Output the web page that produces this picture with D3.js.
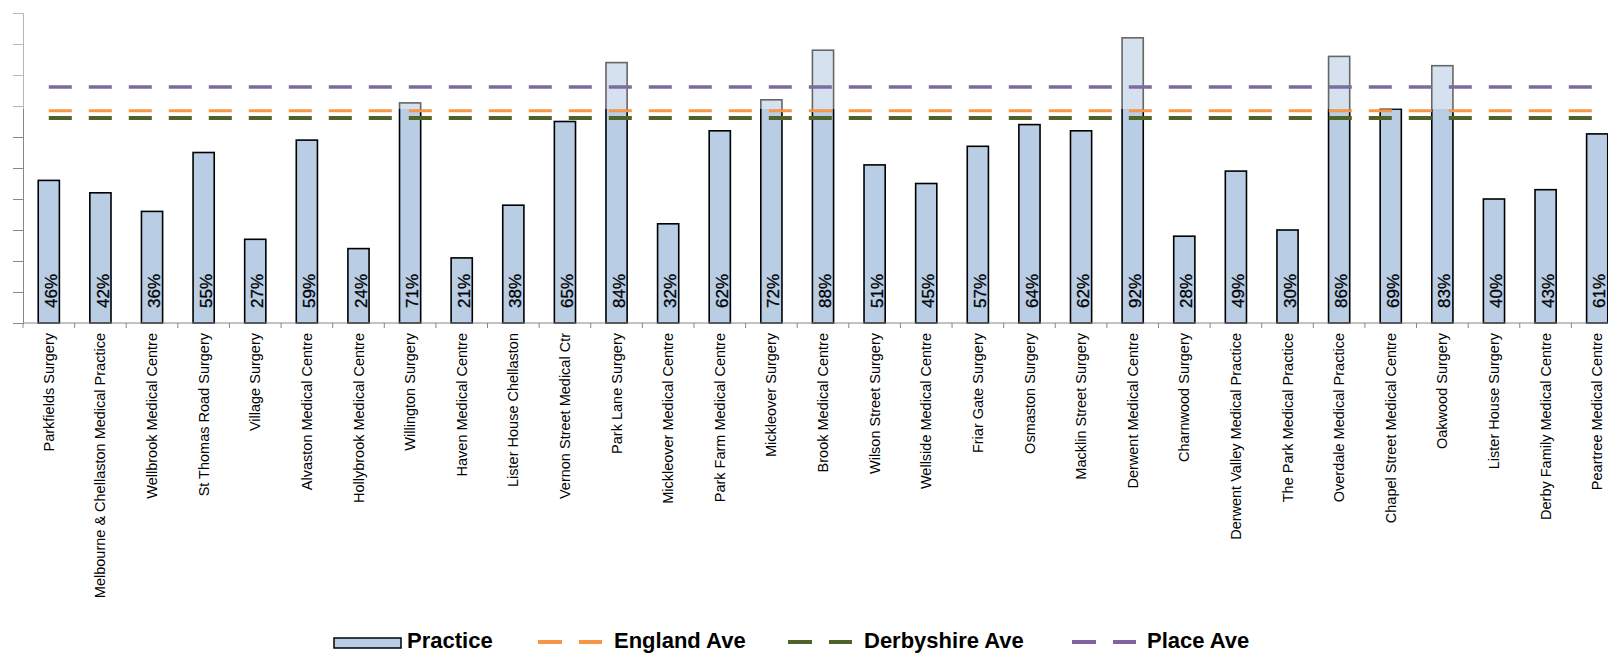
<!DOCTYPE html>
<html>
<head>
<meta charset="utf-8">
<script src="https://cdn.jsdelivr.net/npm/d3@7"></script>
<style>
  body { margin: 0; background: #fff; }
  svg { display: block; }
</style>
</head>
<body>
<script>
'use strict';

// practice names along the x axis
const practices = [
  "Parkfields Surgery", "Melbourne & Chellaston Medical Practice", "Wellbrook Medical Centre",
  "St Thomas Road Surgery", "Village Surgery", "Alvaston Medical Centre", "Hollybrook Medical Centre",
  "Willington Surgery", "Haven Medical Centre", "Lister House Chellaston", "Vernon Street Medical Ctr",
  "Park Lane Surgery", "Mickleover Medical Centre", "Park Farm Medical Centre", "Mickleover Surgery",
  "Brook Medical Centre", "Wilson Street Surgery", "Wellside Medical Centre", "Friar Gate Surgery",
  "Osmaston Surgery", "Macklin Street Surgery", "Derwent Medical Centre", "Charnwood Surgery",
  "Derwent Valley Medical Practice", "The Park Medical Practice", "Overdale Medical Practice",
  "Chapel Street Medical Centre", "Oakwood Surgery", "Lister House Surgery",
  "Derby Family Medical Centre", "Peartree Medical Centre"
];

// practice percentage (0-1)
const practiceValues = [
  0.46, 0.42, 0.36, 0.55, 0.27, 0.59, 0.24, 0.71, 0.21, 0.38, 0.65,
  0.84, 0.32, 0.62, 0.72, 0.88, 0.51, 0.45, 0.57, 0.64, 0.62, 0.92,
  0.28, 0.49, 0.30, 0.86, 0.69, 0.83, 0.40, 0.43, 0.61
];

// averages shown as dashed lines
const averageNames = ["England Ave", "Derbyshire Ave", "Place Ave"];
const averageValues = [0.685, 0.661, 0.761];
const averageColors = ["#f79646", "#4f6228", "#8064a2"];
const averageWidths = [3, 4, 3.5];

// y ticks (no labels visible)
const yTicks = [0, 0.1, 0.2, 0.3, 0.4, 0.5, 0.6, 0.7, 0.8, 0.9, 1.0];

const width = 1608, height = 653;
const barFill = "#b9cde5";
const axisColor = "#868686";

const svg = d3.select("body").append("svg")
  .attr("width", width)
  .attr("height", height);

// scales
const x = d3.scaleBand()
  .domain(practices)
  .range([23, 1623])
  .paddingInner(0.59)
  .paddingOuter(0.295);

const y = d3.scaleLinear()
  .domain([0, 1])
  .range([323, 13]);

// y axis
const yAxis = d3.axisLeft(y)
  .tickValues(yTicks)
  .tickSize(10)
  .tickFormat("");
const yg = svg.append("g")
  .attr("transform", "translate(23,0)")
  .call(yAxis);
yg.selectAll("path, line").attr("stroke", axisColor);

// bars
svg.append("g")
  .selectAll("rect")
  .data(practices)
  .enter()
  .append("rect")
    .attr("x", d => x(d))
    .attr("y", (d, i) => y(practiceValues[i]))
    .attr("width", x.bandwidth())
    .attr("height", (d, i) => y(0) - y(practiceValues[i]))
    .attr("fill", barFill)
    .attr("stroke", "#000")
    .attr("stroke-width", 1.6);

// percent labels inside bars, rotated
svg.append("g")
  .selectAll("text")
  .data(practices)
  .enter()
  .append("text")
    .attr("transform", d => "translate(" + (x(d) + x.bandwidth() - 2.5) + "," + (y(0) - 15) + ")rotate(-90)")
    .style("font-family", "'Liberation Sans', Arial, sans-serif")
    .style("font-size", "17px")
    .attr("fill", "#000")
    .attr("stroke", "#000")
    .attr("stroke-width", 0.3)
    .text((d, i) => Math.round(practiceValues[i] * 100) + "%");

// faded band across the top (washed out area in the source)
svg.append("rect")
  .attr("x", 0)
  .attr("y", 0)
  .attr("width", 1600)
  .attr("height", 109)
  .attr("fill", "#fff")
  .attr("opacity", 0.4);

// average lines, from first to last category centre
const half = x.bandwidth() / 2;
svg.append("g")
  .selectAll("line")
  .data(averageValues)
  .enter()
  .append("line")
    .attr("x1", x(practices[0]) + half)
    .attr("x2", x(practices[practices.length - 1]) + half)
    .attr("y1", d => y(d))
    .attr("y2", d => y(d))
    .attr("stroke", (d, i) => i == 2 ? "#7c6c9e" : averageColors[i])
    .attr("stroke-width", (d, i) => averageWidths[i])
    .attr("stroke-dasharray", "23,17");

// x axis: baseline, boundary ticks and rotated labels
const xg = svg.append("g")
  .attr("transform", "translate(0," + y(0) + ")");
xg.append("line")
  .attr("x1", 23)
  .attr("x2", width)
  .attr("stroke", axisColor);
xg.selectAll(".bound")
  .data(d3.range(practices.length + 1))
  .enter()
  .append("line")
    .attr("class", "bound")
    .attr("x1", i => 23 + i * x.step())
    .attr("x2", i => 23 + i * x.step())
    .attr("y1", 0)
    .attr("y2", 5)
    .attr("stroke", axisColor);

const xAxis = d3.axisBottom(x).tickSize(0);
const xl = svg.append("g")
  .attr("transform", "translate(0," + y(0) + ")")
  .call(xAxis);
xl.select(".domain").remove();
xl.selectAll("text")
  .style("font-family", "'Liberation Sans', Arial, sans-serif")
  .style("font-size", "14.5px")
  .attr("fill", "#000")
  .style("text-anchor", "end")
  .attr("x", -10)
  .attr("y", 0)
  .attr("dy", "0.35em")
  .attr("transform", "rotate(-90)");

// legend
const legend = svg.append("g")
  .style("font-family", "'Liberation Sans', Arial, sans-serif")
  .style("font-size", "22px")
  .style("font-weight", "bold");

legend.append("rect")
  .attr("x", 334)
  .attr("y", 638)
  .attr("width", 67)
  .attr("height", 10)
  .attr("fill", barFill)
  .attr("stroke", "#000")
  .attr("stroke-width", 1.5);
legend.append("text")
  .attr("x", 407)
  .attr("y", 648)
  .text("Practice");

const legendX = [538, 788, 1072];
averageNames.forEach((name, i) => {
  const g = legend.append("g").attr("transform", "translate(" + legendX[i] + ",642)");
  g.append("line")
    .attr("x1", 0)
    .attr("x2", 64)
    .attr("stroke", averageColors[i])
    .attr("stroke-width", 4)
    .attr("stroke-dasharray", "24,17");
  g.append("text")
    .attr("x", i == 2 ? 75 : 76)
    .attr("y", 6)
    .text(name);
});
</script>
</body>
</html>
